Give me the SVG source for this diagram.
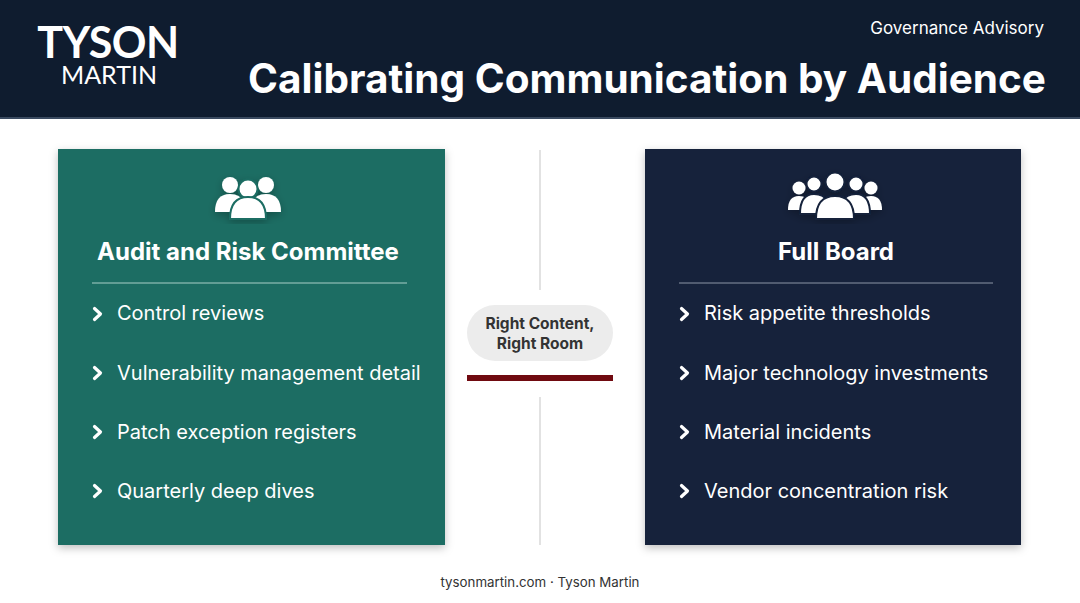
<svg xmlns="http://www.w3.org/2000/svg" width="1080" height="603" viewBox="0 0 1080 603">
<defs>
<filter id="sh" x="-10%" y="-10%" width="120%" height="120%"><feDropShadow dx="0" dy="3" stdDeviation="4" flood-color="#000" flood-opacity="0.25"/></filter>
<symbol id="chev" viewBox="0 0 10 14" overflow="visible"><path d="M1.5 1.5 L7.5 7 L1.5 12.5" fill="none" stroke="#fff" stroke-width="3.2" stroke-linejoin="round" stroke-linecap="round"/></symbol>
</defs>
<style>
text{font-family:Inter,"Open Sans","Liberation Sans",sans-serif;fill:#fff}
.it{font-size:20px}
.h{font-size:24px;font-weight:700}
.ic{fill:#fff;filter:url(#sh)}
</style>
<rect width="1080" height="603" fill="#ffffff"/>
<g id="header">
<rect width="1080" height="118" fill="#0f1c2f"/>
<rect y="117" width="1080" height="2" fill="#3a4a60"/>
<text x="108" y="58" font-size="43" font-weight="700" text-anchor="middle" style="font-family:Lato,'Liberation Sans',sans-serif" letter-spacing="-0.5">TYSON</text>
<text x="109" y="84" font-size="25" text-anchor="middle" style="font-family:Lato,'Liberation Sans',sans-serif">MARTIN</text>
<text x="1044" y="34" font-size="17" text-anchor="end">Governance Advisory</text>
<text x="1046" y="93" font-size="40.5" font-weight="700" text-anchor="end">Calibrating Communication by Audience</text>
</g>
<g id="connectors">
<line x1="540" y1="150" x2="540" y2="290" stroke="#d8d8d8" stroke-width="1.5"/>
<line x1="540" y1="397" x2="540" y2="545" stroke="#d8d8d8" stroke-width="1.5"/>
</g>
<g id="card-left">
<rect x="58" y="149" width="387" height="396" fill="#1b6d63" filter="url(#sh)"/>
<g class="ic">
<circle cx="230" cy="185" r="8"/><circle cx="266" cy="185" r="8"/>
<path d="M215 212 q0 -18 15 -18 q10 0 14 8 l0 10 z"/>
<path d="M281 212 q0 -18 -15 -18 q-10 0 -14 8 l0 10 z"/>
<circle cx="248" cy="189" r="9.5" stroke="#1b6d63" stroke-width="2"/>
<path d="M230 219 q0 -22 18 -22 q18 0 18 22 z" stroke="#1b6d63" stroke-width="2"/>
</g>
<text x="248" y="260" class="h" text-anchor="middle">Audit and Risk Committee</text>
<line x1="92" y1="283" x2="407" y2="283" stroke="#a8cfc8" stroke-width="1"/>
<use href="#chev" x="93" y="307" width="10" height="14"/><text x="117" y="320" class="it">Control reviews</text>
<use href="#chev" x="93" y="366" width="10" height="14"/><text x="117" y="380" class="it">Vulnerability management detail</text>
<use href="#chev" x="93" y="425" width="10" height="14"/><text x="117" y="439" class="it">Patch exception registers</text>
<use href="#chev" x="93" y="484" width="10" height="14"/><text x="117" y="498" class="it">Quarterly deep dives</text>
</g>
<g id="card-right">
<rect x="645" y="149" width="376" height="396" fill="#12203a" filter="url(#sh)"/>
<g class="ic">
<circle cx="799" cy="188" r="6.5"/><circle cx="871" cy="188" r="6.5"/>
<path d="M788 210 q0 -14 11 -14 q8 0 10 6 l0 8 z"/>
<path d="M882 210 q0 -14 -11 -14 q-8 0 -10 6 l0 8 z"/>
<circle cx="814" cy="184" r="7.5" stroke="#12203a" stroke-width="2"/><circle cx="856" cy="184" r="7.5" stroke="#12203a" stroke-width="2"/>
<path d="M800 214 q0 -20 14 -20 q10 0 14 8 l0 12 z" stroke="#12203a" stroke-width="2"/>
<path d="M870 214 q0 -20 -14 -20 q-10 0 -14 8 l0 12 z" stroke="#12203a" stroke-width="2"/>
<circle cx="835" cy="182" r="9.5" stroke="#12203a" stroke-width="2"/>
<path d="M816 219 q0 -23 19 -23 q19 0 19 23 z" stroke="#12203a" stroke-width="2"/>
</g>
<text x="836" y="260" class="h" text-anchor="middle">Full Board</text>
<line x1="679" y1="283" x2="993" y2="283" stroke="#8b95a6" stroke-width="1"/>
<use href="#chev" x="680" y="307" width="10" height="14"/><text x="704" y="320" class="it">Risk appetite thresholds</text>
<use href="#chev" x="680" y="366" width="10" height="14"/><text x="704" y="380" class="it">Major technology investments</text>
<use href="#chev" x="680" y="425" width="10" height="14"/><text x="704" y="439" class="it">Material incidents</text>
<use href="#chev" x="680" y="484" width="10" height="14"/><text x="704" y="498" class="it">Vendor concentration risk</text>
</g>
<g id="center">
<rect x="467" y="305" width="146" height="56" rx="28" fill="#ececec"/>
<text x="540" y="329" font-size="15.5" font-weight="700" text-anchor="middle" style="fill:#333">Right Content,</text>
<text x="540" y="349" font-size="15.5" font-weight="700" text-anchor="middle" style="fill:#333">Right Room</text>
<rect x="467" y="375" width="146" height="6" fill="#700a10"/>
</g>
<text x="540" y="587" font-size="13.3" text-anchor="middle" style="fill:#333">tysonmartin.com · Tyson Martin</text>
</svg>
